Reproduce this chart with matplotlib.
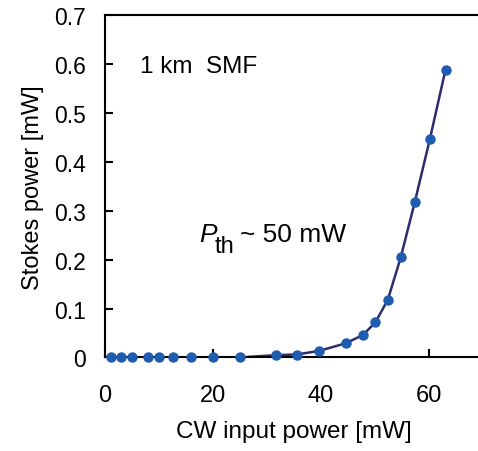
import matplotlib.pyplot as plt
import numpy as np

plt.rcParams['font.family'] = ['Liberation Sans', 'DejaVu Sans']

# data
cw_power = [1, 3, 5, 8, 10, 12.5, 16, 20, 25, 31.6, 35.5, 39.7, 44.6, 47.8,
            50.1, 52.4, 54.8, 57.4, 60.2, 63.1]
stokes_power = [0, 0, 0, 0, 0, 0, 0, 0, 0, 0.0047, 0.006, 0.0135, 0.029, 0.046,
                0.072, 0.118, 0.205, 0.318, 0.447, 0.589]
xticks = [0, 20, 40, 60]
yticks = [0, 0.1, 0.2, 0.3, 0.4, 0.5, 0.6, 0.7]
yticklabels = ['0', '0.1', '0.2', '0.3', '0.4', '0.5', '0.6', '0.7']

fig = plt.figure(figsize=(4.78, 4.52), dpi=100)
ax = fig.add_axes([0.22, 0.207, 0.79, 0.757])

ax.plot(cw_power, stokes_power, color='#2e2d6b', linewidth=1.8, zorder=2)
ax.plot(cw_power, stokes_power, linestyle='none', marker='o', markersize=6.5,
        color='#1f5cb0', zorder=3, clip_on=False)

ax.set_xlim(0, 70)
ax.set_ylim(0, 0.7)
ax.set_xticks(xticks)
ax.set_yticks(yticks)
ax.set_yticklabels(yticklabels)
ax.tick_params(axis='x', direction='in', length=6, width=1.5, pad=19, labelsize=17)
ax.tick_params(axis='y', direction='in', length=6, width=1.5, pad=14, labelsize=16.5)
ax.spines['right'].set_visible(False)
for s in ['left', 'bottom', 'top']:
    ax.spines[s].set_linewidth(1.5)

ax.set_xlabel('CW input power [mW]', fontsize=17.5, labelpad=10)
ax.set_ylabel('Stokes power [mW]', fontsize=17, labelpad=7)


def px(x, y):
    # pixel position in the picture -> axes fraction
    return (x - 105.2) / 376.0, (358.3 - y) / 341.8


tkw = dict(transform=ax.transAxes, va='baseline', ha='left')
ax.text(*px(140, 73), '1 km  SMF', fontsize=17.5, **tkw)
ax.text(*px(199, 241.7), 'P', style='italic', fontsize=19, **tkw)
ax.text(*px(214, 252.5), 'th', fontsize=17, **tkw)
ax.text(*px(239, 241.7), '~ 50 mW', fontsize=19, **tkw)

plt.savefig('out.png', dpi=100)
